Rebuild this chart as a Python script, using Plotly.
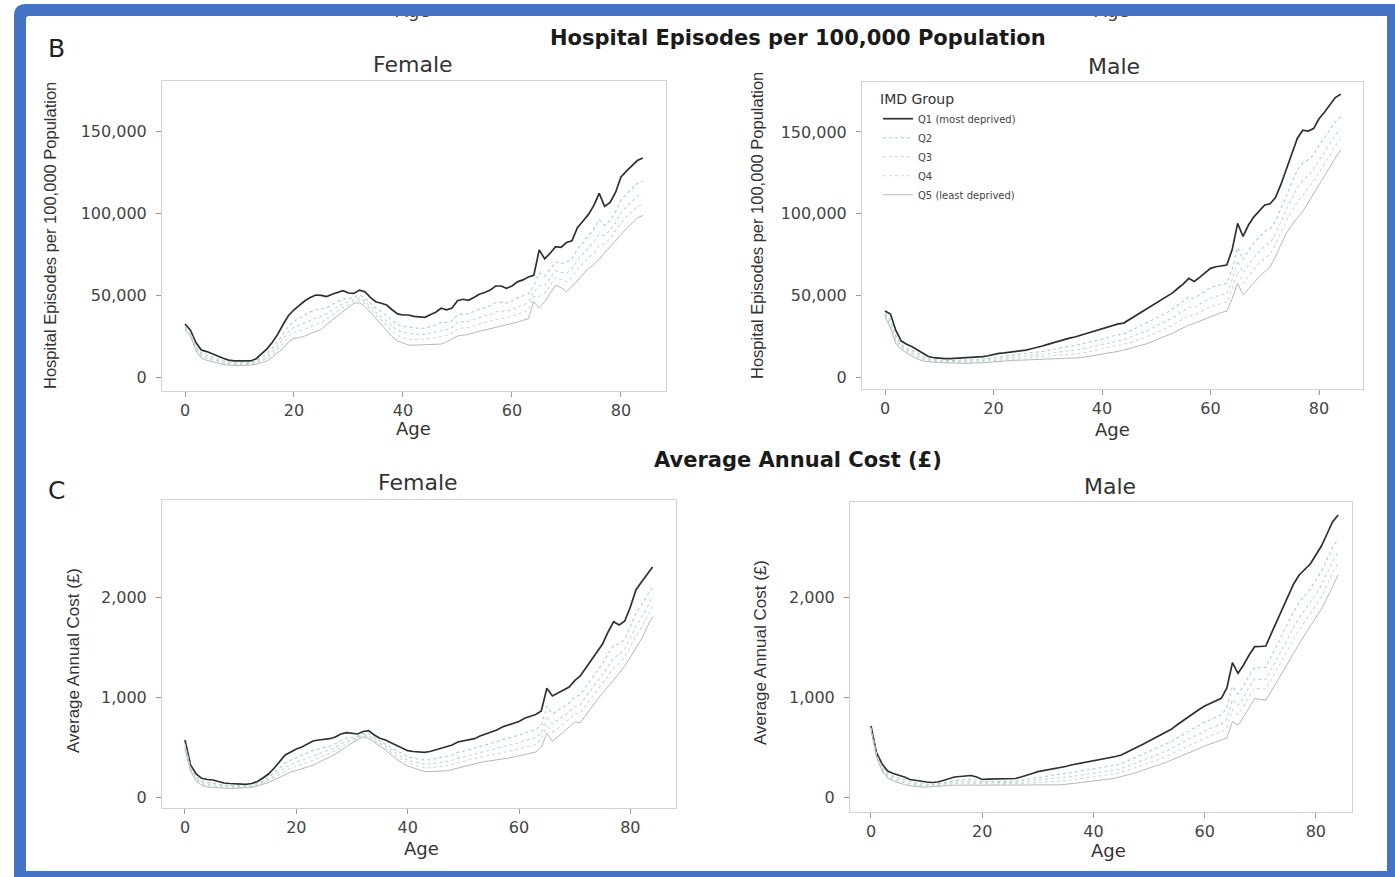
import plotly.graph_objects as go

W, H = 1395, 877

ages = list(range(85))
groups = ["Q1 (most deprived)", "Q2", "Q3", "Q4", "Q5 (least deprived)"]
x_ticks = [0, 20, 40, 60, 80]
ep_ticks = [0, 50000, 100000, 150000]
cost_ticks = [0, 1000, 2000]

# Hospital episodes per 100,000 population (values in thousands)
ep_f_q1 = [32.3,28.5,21.0,16.5,15.5,14.3,12.8,11.4,10.3,9.8,
           9.7,9.7,9.8,11.0,14.0,17.0,21.0,26.0,32.0,37.5,
           41.0,43.9,46.5,48.5,50.0,49.8,49.0,50.5,51.5,52.6,
           51.2,51.0,53.0,52.0,48.5,45.9,45.0,43.9,41.0,38.5,
           37.8,37.8,37.0,36.5,36.4,38.0,39.5,41.9,41.0,42.0,
           46.5,47.4,46.8,48.5,50.5,51.5,53.0,55.5,55.5,54.1,
           55.5,58.0,59.2,61.0,62.0,77.5,72.0,75.5,79.5,79.0,
           82.0,83.0,91.0,95.0,99.0,104.5,112.0,104.0,106.5,112.5,
           122.0,125.5,128.5,132.0,133.5]
ep_f_q2 = [30.9,27.1,19.0,14.5,13.4,12.4,11.1,9.9,9.1,8.7,
           8.6,8.7,8.8,9.7,11.8,14.1,17.4,21.4,26.2,31.1,
           34.0,35.9,37.9,39.7,41.0,41.5,42.2,44.2,45.9,47.6,
           47.7,48.6,49.9,48.4,44.9,41.9,39.8,37.5,34.4,31.9,
           30.9,30.5,30.0,29.7,29.7,30.7,31.7,33.2,33.2,34.4,
           37.9,38.6,38.5,39.9,41.4,42.3,43.4,45.3,45.6,45.1,
           46.3,48.2,49.3,50.8,55.6,63.3,61.6,65.7,70.1,69.2,
           70.0,71.8,78.2,82.0,85.8,90.1,96.0,92.6,95.5,100.7,
           108.0,111.5,114.5,118.0,119.5]
ep_f_q3 = [30.1,26.3,17.9,13.3,12.2,11.3,10.1,9.0,8.4,8.1,
           8.0,8.1,8.3,9.0,10.7,12.5,15.4,18.9,23.0,27.6,
           30.2,31.6,33.2,34.9,36.1,36.9,38.5,40.8,42.8,44.8,
           45.8,47.2,48.2,46.4,42.9,39.6,36.9,34.0,30.8,28.3,
           27.1,26.5,26.1,26.0,26.0,26.7,27.4,28.4,28.9,30.2,
           33.2,33.8,33.9,35.2,36.4,37.2,38.2,39.7,40.2,40.1,
           41.2,42.8,43.9,45.2,52.0,55.5,55.9,60.3,64.9,63.8,
           63.4,65.6,71.2,74.9,78.5,82.2,87.2,86.3,89.4,94.2,
           100.3,103.8,106.8,110.3,111.8]
ep_f_q4 = [29.4,25.7,17.0,12.4,11.3,10.5,9.4,8.4,7.8,7.6,
           7.5,7.6,7.8,8.4,9.7,11.2,13.8,16.8,20.4,24.7,
           27.1,28.0,29.3,30.9,32.1,33.2,35.4,37.9,40.3,42.5,
           44.2,46.1,46.8,44.8,41.3,37.8,34.6,31.2,27.9,25.3,
           24.0,22.9,22.9,23.0,23.0,23.4,23.9,24.5,25.4,26.8,
           29.3,29.9,30.2,31.3,32.3,32.9,34.0,35.1,35.7,36.0,
           37.1,38.4,39.4,40.6,49.1,49.1,51.2,55.9,60.7,59.4,
           58.0,60.6,65.4,69.0,72.6,75.7,80.0,81.2,84.5,88.9,
           94.0,97.5,100.5,104.0,105.5]
ep_f_q5 = [28.7,25.0,16.0,11.4,10.2,9.5,8.5,7.6,7.2,7.0,
           7.0,7.1,7.3,7.8,8.6,9.8,12.0,14.5,17.5,21.5,
           23.6,24.0,25.0,26.5,27.6,29.0,32.0,34.8,37.5,40.0,
           42.5,44.9,45.3,43.0,39.5,35.8,32.0,28.0,24.6,22.0,
           20.5,19.5,19.4,19.5,19.6,19.8,20.0,20.1,21.5,23.0,
           25.0,25.5,26.0,27.0,27.8,28.5,29.1,30.0,30.8,31.5,
           32.5,33.5,34.5,35.5,45.9,42.0,46.0,51.0,56.0,54.5,
           52.0,55.0,59.0,62.5,66.0,68.5,72.0,75.5,79.0,83.0,
           87.0,90.5,93.5,97.0,98.5]

ep_m_q1 = [40.4,38.5,28.5,22.0,20.0,18.5,16.5,14.5,12.5,11.8,
           11.3,11.2,11.2,11.4,11.3,11.8,12.0,12.0,12.5,13.0,
           13.8,14.5,14.8,15.2,15.6,16.0,16.5,17.3,18.0,19.0,
           20.0,21.0,22.2,23.0,23.8,24.5,25.5,26.5,27.7,28.5,
           29.5,30.8,31.8,32.5,33.0,35.0,37.0,39.0,41.0,43.0,
           45.0,47.0,49.0,51.5,54.3,57.0,60.4,58.5,61.0,64.0,
           66.5,67.5,68.0,68.5,78.0,94.0,86.0,93.0,98.0,102.0,
           105.3,106.0,110.0,118.0,127.0,136.0,146.0,151.0,150.5,152.0,
           158.0,162.0,166.5,171.0,173.0]
ep_m_q2 = [39.0,35.1,25.3,20.0,17.8,16.1,14.3,12.6,11.2,10.7,
           10.3,10.2,10.1,10.2,10.1,10.4,10.6,10.6,11.0,11.4,
           12.0,12.5,12.8,13.1,13.4,13.7,14.1,14.6,15.0,15.7,
           16.3,17.0,17.7,18.2,18.8,19.3,20.0,20.8,21.7,22.4,
           23.3,24.3,25.1,25.8,26.4,27.9,29.5,31.0,32.6,34.3,
           36.0,37.8,39.5,41.6,44.0,46.2,49.0,48.2,50.3,52.6,
           54.7,55.8,56.6,57.2,66.0,79.3,71.7,77.4,82.0,85.8,
           89.0,90.6,95.6,103.2,111.4,118.8,126.6,131.1,132.9,136.0,
           141.8,146.4,151.3,156.2,159.4]
ep_m_q3 = [38.2,33.2,23.5,18.9,16.6,14.8,13.1,11.6,10.5,10.1,
           9.8,9.6,9.5,9.5,9.5,9.7,9.8,9.8,10.1,10.5,
           11.0,11.5,11.7,12.0,12.3,12.5,12.7,13.1,13.4,13.9,
           14.3,14.7,15.3,15.6,16.1,16.4,17.0,17.7,18.5,19.1,
           19.8,20.7,21.4,22.1,22.8,24.0,25.3,26.7,28.0,29.5,
           31.1,32.7,34.3,36.2,38.3,40.3,42.7,42.6,44.4,46.4,
           48.2,49.3,50.3,51.0,59.4,71.2,63.8,68.8,73.2,76.8,
           80.0,82.1,87.7,95.1,102.8,109.3,115.9,120.1,123.2,127.2,
           132.9,137.8,142.9,148.1,151.9]
ep_m_q4 = [37.6,31.7,22.1,18.0,15.6,13.7,12.1,10.7,9.9,9.6,
           9.3,9.1,9.0,9.0,9.0,9.1,9.1,9.2,9.5,9.8,
           10.2,10.6,10.8,11.0,11.3,11.4,11.6,11.9,12.1,12.4,
           12.6,12.9,13.2,13.5,13.8,14.0,14.5,15.1,15.8,16.3,
           17.0,17.8,18.4,19.1,19.8,20.8,22.0,23.1,24.3,25.6,
           27.1,28.5,30.0,31.7,33.7,35.5,37.5,37.9,39.6,41.3,
           42.9,44.1,45.2,45.9,54.0,64.6,57.4,61.8,66.0,69.5,
           72.7,75.2,81.2,88.4,95.8,101.6,107.2,111.2,115.3,120.0,
           125.1,130.8,136.1,141.4,145.8]
ep_m_q5 = [36.9,30.0,20.5,17.0,14.5,12.5,11.0,9.8,9.3,9.0,
           8.8,8.6,8.5,8.4,8.4,8.4,8.4,8.5,8.7,9.0,
           9.3,9.6,9.8,10.0,10.2,10.3,10.4,10.5,10.6,10.7,
           10.8,10.9,11.0,11.1,11.3,11.4,11.8,12.3,12.8,13.3,
           13.9,14.5,15.1,15.7,16.5,17.3,18.2,19.1,20.1,21.3,
           22.6,23.9,25.3,26.8,28.5,30.1,31.8,32.8,34.2,35.6,
           37.0,38.2,39.5,40.2,48.0,57.3,50.2,54.0,58.0,61.4,
           64.5,67.5,74.0,81.0,88.0,93.0,97.5,101.2,106.5,112.0,
           117.5,123.0,128.5,134.0,139.0]

# Average annual cost (GBP)
cost_f_q1 = [570,320,230,187,175,170,155,140,135,130,
             128,127,135,155,190,230,287,350,420,450,
             480,500,530,560,570,575,583,600,630,643,
             635,630,655,663,620,587,570,545,520,490,
             463,455,450,447,455,470,487,505,520,550,
             560,575,583,610,630,653,670,700,720,735,
             755,787,805,825,860,1087,1010,1040,1070,1100,
             1163,1210,1290,1370,1440,1530,1650,1753,1720,1760,
             1900,2070,2150,2230,2300]
cost_f_q2 = [534,296,202,158,145,140,129,119,115,112,
             112,113,120,137,164,196,240,288,342,370,
             394,412,438,464,480,493,510,532,566,587,
             597,608,634,632,590,556,530,495,464,430,
             402,389,378,370,374,384,395,408,422,446,
             458,473,484,504,520,538,551,572,587,601,
             618,642,658,675,716,907,829,864,902,940,
             998,1023,1102,1182,1252,1333,1430,1520,1528,1580,
             1700,1838,1922,2018,2101]
cost_f_q3 = [514,283,187,142,129,124,115,107,105,103,
             103,105,111,127,150,177,214,254,299,326,
             347,364,387,411,431,448,470,495,531,556,
             576,596,623,615,574,539,508,468,433,397,
             368,353,338,328,330,337,345,355,368,389,
             402,417,429,446,460,474,485,502,514,527,
             542,563,577,593,637,808,729,767,810,852,
             907,920,999,1079,1149,1224,1309,1392,1422,1481,
             1590,1710,1797,1901,1992]
cost_f_q4 = [498,272,174,129,115,110,103,98,96,95,
             96,99,105,119,138,162,193,226,264,290,
             308,324,346,368,390,411,437,464,502,531,
             559,586,613,601,560,525,490,445,408,370,
             341,323,306,293,293,298,304,311,324,342,
             356,371,385,398,410,423,432,444,454,467,
             481,497,511,525,572,727,648,688,734,780,
             833,836,914,994,1064,1136,1210,1287,1336,1400,
             1500,1606,1694,1806,1902]
cost_f_q5 = [480,260,160,115,100,95,90,87,86,86,
             88,92,97,110,125,145,170,195,225,250,
             265,280,300,320,345,370,400,430,470,503,
             540,575,603,585,545,510,470,420,380,340,
             310,290,270,255,253,255,258,263,275,290,
             305,320,335,345,355,365,372,380,387,400,
             412,425,437,450,500,637,557,600,650,700,
             750,743,820,900,970,1037,1100,1170,1240,1310,
             1400,1490,1580,1700,1803]

cost_m_q1 = [710,440,330,260,235,220,200,175,165,155,
             150,145,150,165,180,200,205,210,215,200,
             175,178,180,180,180,182,185,200,215,235,
             253,262,275,287,295,305,320,330,340,352,
             365,373,385,395,405,420,450,480,503,530,
             560,587,615,645,677,720,760,803,840,875,
             910,935,960,987,1090,1343,1237,1320,1420,1503,
             1505,1510,1637,1760,1890,2020,2130,2220,2270,2330,
             2420,2510,2630,2750,2820]
cost_m_q2 = [694,424,302,232,205,188,170,150,140,133,
             130,128,132,143,154,167,171,175,177,167,
             152,154,155,155,155,156,158,168,177,189,
             200,205,213,220,226,234,245,254,263,272,
             283,290,299,309,319,333,357,381,402,425,
             450,473,498,525,553,588,621,657,688,719,
             750,773,796,820,890,1107,1030,1112,1212,1297,
             1293,1294,1406,1516,1629,1748,1854,1947,2010,2082,
             2168,2258,2374,2494,2580]
cost_m_q3 = [685,415,287,217,189,170,154,136,127,121,
             119,118,122,131,140,149,152,155,156,149,
             140,141,142,142,142,142,143,150,155,164,
             171,174,179,183,188,195,204,212,220,229,
             238,244,252,262,272,285,306,327,346,368,
             390,411,434,459,485,515,545,576,604,633,
             662,684,706,728,780,977,916,998,1098,1183,
             1176,1175,1279,1382,1485,1598,1702,1797,1867,1946,
             2029,2119,2233,2353,2448]
cost_m_q4 = [678,408,274,204,175,156,140,125,115,111,
             110,111,114,121,128,134,137,140,139,134,
             129,130,130,130,130,131,131,135,138,143,
             147,148,151,153,157,163,170,178,186,193,
             201,207,213,223,233,246,264,282,301,320,
             340,360,381,405,430,456,482,510,536,563,
             590,611,632,653,690,871,823,904,1004,1090,
             1081,1078,1175,1272,1368,1476,1578,1674,1750,1834,
             1916,2006,2118,2238,2340]
cost_m_q5 = [670,400,260,190,160,140,125,112,103,100,
             100,102,105,110,115,118,120,122,120,118,
             118,118,118,118,118,118,118,119,119,120,
             120,120,120,120,122,127,133,140,147,153,
             160,165,170,180,190,203,217,233,250,268,
             285,303,323,345,368,390,413,437,460,485,
             510,530,550,570,590,753,720,800,900,987,
             975,970,1060,1150,1237,1340,1440,1537,1620,1710,
             1790,1880,1990,2110,2220]

ep_f = [ep_f_q1, ep_f_q2, ep_f_q3, ep_f_q4, ep_f_q5]
ep_m = [ep_m_q1, ep_m_q2, ep_m_q3, ep_m_q4, ep_m_q5]
cost_f = [cost_f_q1, cost_f_q2, cost_f_q3, cost_f_q4, cost_f_q5]
cost_m = [cost_m_q1, cost_m_q2, cost_m_q3, cost_m_q4, cost_m_q5]

# ---------------- styling / layout ----------------
line_styles = [
    dict(color="#2f2f2f", width=1.7, dash="solid"),
    dict(color="#a3d4c6", width=1.1, dash="dot"),
    dict(color="#b7dcd2", width=1.1, dash="dot"),
    dict(color="#cfd9d6", width=1.1, dash="dot"),
    dict(color="#b4b9b9", width=1.0, dash="solid"),
]

def px_x(a, b):
    return [a / W, b / W]

def px_y(top, bottom):
    return [1 - bottom / H, 1 - top / H]

def P(x, y):
    return f"{x / W:.5f},{1 - y / H:.5f}"

fig = go.Figure()

panels = [
    (ep_f, "x", "y", 1000),
    (ep_m, "x2", "y2", 1000),
    (cost_f, "x3", "y3", 1),
    (cost_m, "x4", "y4", 1),
]
for p, (series, xa, ya, scale) in enumerate(panels):
    for i, vals in enumerate(series):
        fig.add_trace(go.Scatter(
            x=ages, y=[v * scale for v in vals], mode="lines",
            line=line_styles[i], name=groups[i], legendgroup=groups[i],
            showlegend=(p == 1), xaxis=xa, yaxis=ya, hoverinfo="skip"))

# clipped "Age" fragments at the top edge (remnant of panel above)
fig.add_trace(go.Scatter(
    x=[413, 1112], y=[12, 12], text=["Age", "Age"], mode="text",
    textfont=dict(family="DejaVu Sans", size=18, color="#444444"),
    cliponaxis=True, showlegend=False, hoverinfo="skip",
    xaxis="x5", yaxis="y5"))

tickfont = dict(family="DejaVu Sans", size=16, color="#444444")
ax = dict(showline=True, mirror=True, linecolor="#d2d2d2", linewidth=1,
          ticks="outside", ticklen=5, tickcolor="#9a9a9a", tickwidth=1,
          showgrid=False, zeroline=False, tickfont=tickfont, fixedrange=True)

fig.update_layout(
    width=W, height=H,
    margin=dict(l=0, r=0, t=0, b=0, autoexpand=False),
    paper_bgcolor="white", plot_bgcolor="white",
    xaxis=dict(ax, domain=px_x(162, 666), range=[-4.22, 88.26], tickvals=x_ticks, anchor="y"),
    yaxis=dict(ax, domain=px_y(81, 391), range=[-8537, 180488], tickvals=ep_ticks,
               tickformat=",d", anchor="x", ticklabelstandoff=6),
    xaxis2=dict(ax, domain=px_x(862, 1363), range=[-4.24, 88.11], tickvals=x_ticks, anchor="y2"),
    yaxis2=dict(ax, domain=px_y(82, 389), range=[-7344, 180539], tickvals=ep_ticks,
                tickformat=",d", anchor="x2", ticklabelstandoff=6),
    xaxis3=dict(ax, domain=px_x(162, 676), range=[-4.13, 88.2], tickvals=x_ticks, anchor="y3"),
    yaxis3=dict(ax, domain=px_y(500, 808), range=[-110, 2970], tickvals=cost_ticks,
                tickformat=",d", anchor="x3", ticklabelstandoff=6),
    xaxis4=dict(ax, domain=px_x(850, 1352), range=[-3.77, 86.5], tickvals=x_ticks, anchor="y4"),
    yaxis4=dict(ax, domain=px_y(502, 812), range=[-150, 2950], tickvals=cost_ticks,
                tickformat=",d", anchor="x4", ticklabelstandoff=6),
    xaxis5=dict(domain=[0, 1], range=[0, W], visible=False, anchor="y5", fixedrange=True),
    yaxis5=dict(domain=px_y(16, 30), range=[30, 16], visible=False, anchor="x5", fixedrange=True),
    legend=dict(
        x=878 / W, y=1 - 86 / H, xanchor="left", yanchor="top",
        bgcolor="rgba(0,0,0,0)", borderwidth=0,
        font=dict(family="DejaVu Sans", size=10, color="#444444"),
        title=dict(text="IMD Group", font=dict(family="DejaVu Sans", size=14, color="#333333")),
        itemwidth=30, tracegroupgap=0,
    ),
    showlegend=True,
)

def ann(text, x, y, size, family="DejaVu Sans", color="#333333", angle=0):
    return dict(text=text, x=x / W, y=1 - y / H, xref="paper", yref="paper",
                xanchor="center", yanchor="middle", showarrow=False, textangle=angle,
                font=dict(family=family, size=size, color=color))

annotations = [
    ann("B", 56, 48, 25, color="#222222"),
    ann("C", 56, 491, 25, color="#222222"),
    ann("<b>Hospital Episodes per 100,000 Population</b>", 798, 38, 21, color="#1a1a1a"),
    ann("<b>Average Annual Cost (£)</b>", 798, 460, 21, color="#1a1a1a"),
    ann("Female", 413, 64, 22),
    ann("Male", 1114, 66, 22),
    ann("Female", 418, 482, 22),
    ann("Male", 1110, 486, 22),
    ann("Age", 413, 428, 18),
    ann("Age", 1112, 430, 18),
    ann("Age", 421, 848, 18),
    ann("Age", 1108, 850, 18),
    ann("Hospital Episodes per 100,000 Population", 50, 236, 16.5, family="Liberation Sans", angle=-90),
    ann("Hospital Episodes per 100,000 Population", 757, 226, 16.5, family="Liberation Sans", angle=-90),
    ann("Average Annual Cost (£)", 73, 661, 17, family="Liberation Sans", angle=-90),
    ann("Average Annual Cost (£)", 760, 653, 17, family="Liberation Sans", angle=-90),
]
fig.update_layout(annotations=annotations)

# blue rounded frame
outer = f"M{P(14, 16)} Q{P(14, 4)} {P(26, 4)} L{P(1400, 4)} L{P(1400, 882)} L{P(14, 882)} Z"
inner = f"M{P(29, 16)} Q{P(26, 16)} {P(26, 19)} L{P(26, 871)} L{P(1387, 871)} L{P(1387, 16)} Z"
fig.add_shape(type="path", path=outer + " " + inner, xref="paper", yref="paper",
              fillcolor="#4472c4", line=dict(width=0), layer="above")

fig.write_html("out.html", config={"displayModeBar": False},
               post_script="document.body.style.margin='0';document.body.style.overflow='hidden';")
